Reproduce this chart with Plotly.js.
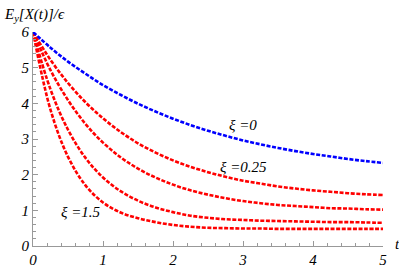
<!DOCTYPE html>
<html><head><meta charset="utf-8">
<script src="https://cdn.plot.ly/plotly-3.0.1.min.js"></script>
<style>html,body{margin:0;padding:0;background:#fff}#c{width:399px;height:268px}</style>
</head><body><div id="c"></div>
<script>
const t = [0,0.25,0.5,0.75,1,1.25,1.5,1.75,2,2.25,2.5,2.75,3,3.25,3.5,3.75,4,4.25,4.5,4.75,5];
const xi0    = [6.00,5.56,5.17,4.83,4.51,4.24,3.99,3.77,3.57,3.39,3.23,3.09,2.96,2.85,2.75,2.66,2.58,2.51,2.44,2.38,2.33];
const xi025  = [6.00,5.22,4.57,4.03,3.58,3.20,2.88,2.62,2.40,2.22,2.07,1.94,1.83,1.75,1.67,1.61,1.56,1.52,1.48,1.45,1.43];
const xiB    = [6.00,4.93,4.09,3.42,2.90,2.49,2.17,1.92,1.72,1.56,1.44,1.34,1.26,1.20,1.15,1.12,1.09,1.06,1.05,1.03,1.02];
const xiC    = [6.00,4.39,3.26,2.47,1.92,1.54,1.27,1.08,0.95,0.85,0.79,0.75,0.73,0.71,0.70,0.69,0.68,0.67,0.67,0.66,0.65];
const xi15   = [6.00,3.82,2.50,1.70,1.22,0.94,0.78,0.67,0.59,0.54,0.51,0.50,0.49,0.49,0.48,0.48,0.48,0.48,0.48,0.48,0.48];
const tickVals = [0,1,2,3,4,5,6];

const dash = '4px,1.6px';
function tr(y, color){ return {x:t, y:y, mode:'lines', line:{color:color, width:2.6, dash:dash, shape:'spline'}, hoverinfo:'skip', showlegend:false}; }
const data = [tr(xiC,'rgb(255,0,0)'), tr(xi15,'rgb(255,0,0)'), tr(xiB,'rgb(255,0,0)'), tr(xi025,'rgb(255,0,0)'), tr(xi0,'rgb(0,0,255)')];

const tf = {family:'Times New Roman', size:15, color:'#000', style:'italic'};
const axCommon = {showgrid:false, zeroline:false, showline:true, linecolor:'#999', linewidth:1,
  ticks:'inside', ticklen:5, tickcolor:'#999', tickwidth:1, tickfont:tf, fixedrange:true};
const layout = {
  width:399, height:268, margin:{l:33, r:16, t:32, b:22},
  paper_bgcolor:'#fff', plot_bgcolor:'#fff',
  font:{family:'Times New Roman'},
  xaxis: Object.assign({}, axCommon, {range:[0,5], tickvals:[0,1,2,3,4,5], ticktext:['0','1','2','3','4','5'],
    minor:{dtick:0.2, tick0:0, ticks:'inside', ticklen:3, tickcolor:'#999'}}),
  yaxis: Object.assign({}, axCommon, {range:[0,6], tickvals:tickVals, ticktext:tickVals.map(String),
    minor:{dtick:0.2, tick0:0, ticks:'inside', ticklen:3, tickcolor:'#999'}}),
  annotations:[
    {x:3.0, y:3.39, xref:'x', yref:'y', text:'ξ =0', showarrow:false, font:tf},
    {x:3.0, y:2.21, xref:'x', yref:'y', text:'ξ =0.25', showarrow:false, font:tf},
    {x:0.69, y:0.95, xref:'x', yref:'y', text:'ξ =1.5', showarrow:false, font:tf},
    {x:0, y:1, xref:'paper', yref:'paper', xshift:-31, yshift:17, xanchor:'left', yanchor:'middle',
     text:'E<sub>y</sub>[X(t)]/ϵ', showarrow:false, font:tf},
    {x:1, y:0, xref:'paper', yref:'paper', xshift:14, yshift:2, xanchor:'center', yanchor:'middle',
     text:'t', showarrow:false, font:tf}
  ]
};
Plotly.newPlot('c', data, layout, {displayModeBar:false, staticPlot:true});
</script>
</body></html>
